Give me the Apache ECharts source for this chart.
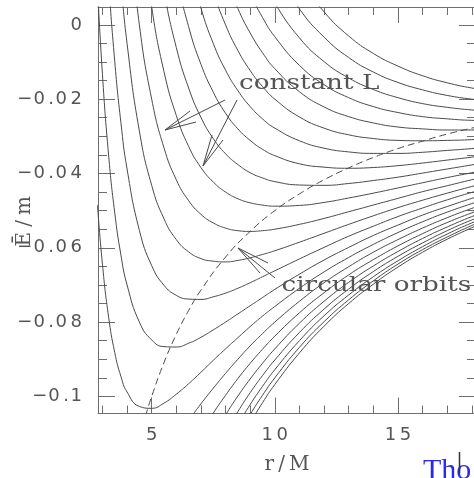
<!DOCTYPE html>
<html>
<head>
<meta charset="utf-8">
<script src="https://cdn.jsdelivr.net/npm/echarts@6.0.0/dist/echarts.min.js"></script>
<style>
  html, body { margin: 0; padding: 0; background: #ffffff; }
  #chart { width: 474px; height: 478px; }
</style>
</head>
<body>
<div id="chart"></div>
<script>
const _ = null;

// Radial sample points (r/M) shared by every effective-potential curve
const radii = [2.8, 3, 3.25, 3.5, 3.75, 4, 4.5, 5, 5.5, 6, 6.5, 7, 7.5, 8, 8.5, 9, 9.5, 10, 11, 12, 13, 14, 15, 16, 17, 18, 19];

// Angular momentum of each curve
const angularMomenta = [0.8, 1.0, 1.2, 1.4, 1.6, 1.8, 2.0, 2.2, 2.4, 2.6, 2.8, 3.0, 3.2, 3.4, 3.6, 3.8, 4.0, 4.2, 4.4, 4.6, 4.8, 5.0];

// Energy per unit mass along each constant-L curve (one row per L, null = not drawn)
const energies = [
  [_,_,_,_,_,_,_,_,_,_,_,_,_,_, -0.1132,-0.1072,-0.1017,-0.0968,-0.0883,-0.0811,-0.0750,-0.0698,-0.0652,-0.0612,-0.0577,-0.0546,-0.0517],
  [_,_,_,_,_,_,_,_,_,_,_,_,_,_, -0.1107,-0.1049,-0.0997,-0.0950,-0.0868,-0.0799,-0.0740,-0.0689,-0.0644,-0.0605,-0.0571,-0.0540,-0.0512],
  [_,_,_,_,_,_,_,_,_,_,_,_,_, -0.1138,-0.1077,-0.1022,-0.0973,-0.0928,-0.0850,-0.0783,-0.0727,-0.0678,-0.0635,-0.0597,-0.0563,-0.0533,-0.0506],
  [_,_,_,_,_,_,_,_,_,_,_,_,_, -0.1097,-0.1041,-0.0990,-0.0944,-0.0902,-0.0828,-0.0765,-0.0711,-0.0664,-0.0623,-0.0587,-0.0554,-0.0525,-0.0499],
  [_,_,_,_,_,_,_,_,_,_,_,_, -0.1106,-0.1050,-0.0999,-0.0953,-0.0911,-0.0872,-0.0803,-0.0744,-0.0693,-0.0649,-0.0610,-0.0575,-0.0544,-0.0516,-0.0491],
  [_,_,_,_,_,_,_,_,_,_,_, -0.1098,-0.1045,-0.0997,-0.0952,-0.0911,-0.0873,-0.0838,-0.0775,-0.0721,-0.0673,-0.0632,-0.0595,-0.0562,-0.0532,-0.0506,-0.0481],
  [_,_,_,_,_,_,_,_,_, -0.1111,-0.1065,-0.1020,-0.0978,-0.0938,-0.0900,-0.0864,-0.0831,-0.0800,-0.0744,-0.0694,-0.0651,-0.0612,-0.0578,-0.0547,-0.0519,-0.0494,-0.0471],
  [-0.0485,-0.0644,-0.0786,-0.0882,-0.0946,-0.0988,-0.1027,-0.1032,-0.1018,-0.0994,-0.0966,-0.0935,-0.0903,-0.0872,-0.0842,-0.0812,-0.0784,-0.0758,-0.0709,-0.0665,-0.0626,-0.0591,-0.0559,-0.0530,-0.0504,-0.0481,-0.0459],
  [0.0102,-0.0133,-0.0350,-0.0506,-0.0619,-0.0700,-0.0800,-0.0848,-0.0866,-0.0867,-0.0857,-0.0841,-0.0821,-0.0800,-0.0778,-0.0756,-0.0734,-0.0712,-0.0671,-0.0633,-0.0599,-0.0567,-0.0539,-0.0512,-0.0489,-0.0467,-0.0447],
  [_, 0.0422,0.0123,-0.0098,-0.0263,-0.0388,-0.0553,-0.0648,-0.0701,-0.0728,-0.0738,-0.0739,-0.0732,-0.0722,-0.0709,-0.0694,-0.0678,-0.0662,-0.0630,-0.0599,-0.0569,-0.0542,-0.0516,-0.0493,-0.0471,-0.0451,-0.0433],
  [_,_,_, 0.0343,0.0121,-0.0050,-0.0286,-0.0432,-0.0522,-0.0578,-0.0611,-0.0629,-0.0636,-0.0638,-0.0634,-0.0627,-0.0618,-0.0608,-0.0585,-0.0561,-0.0537,-0.0514,-0.0492,-0.0472,-0.0453,-0.0435,-0.0418],
  [_,_,_,_,_, 0.0313,0.0000,-0.0200,-0.0331,-0.0417,-0.0473,-0.0510,-0.0533,-0.0547,-0.0554,-0.0556,-0.0554,-0.0550,-0.0537,-0.0521,-0.0503,-0.0485,-0.0467,-0.0449,-0.0433,-0.0417,-0.0402],
  [_,_,_,_,_,_, 0.0306,0.0048,-0.0126,-0.0244,-0.0327,-0.0384,-0.0423,-0.0450,-0.0468,-0.0479,-0.0485,-0.0488,-0.0486,-0.0478,-0.0466,-0.0453,-0.0439,-0.0425,-0.0411,-0.0398,-0.0384],
  [_,_,_,_,_,_,_, 0.0312,0.0093,-0.0061,-0.0170,-0.0249,-0.0306,-0.0347,-0.0376,-0.0398,-0.0412,-0.0422,-0.0431,-0.0432,-0.0427,-0.0419,-0.0410,-0.0399,-0.0388,-0.0377,-0.0366],
  [_,_,_,_,_,_,_,_, 0.0324,0.0133,-0.0005,-0.0106,-0.0181,-0.0238,-0.0280,-0.0311,-0.0335,-0.0352,-0.0374,-0.0383,-0.0386,-0.0384,-0.0379,-0.0372,-0.0364,-0.0356,-0.0347],
  [_,_,_,_,_,_,_,_,_, 0.0339,0.0170,0.0045,-0.0050,-0.0122,-0.0177,-0.0220,-0.0253,-0.0278,-0.0312,-0.0332,-0.0342,-0.0346,-0.0346,-0.0343,-0.0338,-0.0333,-0.0326],
  [_,_,_,_,_,_,_,_,_,_,_, 0.0204,0.0089,0.0000,-0.0069,-0.0123,-0.0166,-0.0200,-0.0248,-0.0278,-0.0296,-0.0306,-0.0311,-0.0312,-0.0311,-0.0309,-0.0305],
  [_,_,_,_,_,_,_,_,_,_,_,_, 0.0235,0.0128,0.0044,-0.0022,-0.0075,-0.0118,-0.0180,-0.0221,-0.0247,-0.0264,-0.0275,-0.0280,-0.0283,-0.0283,-0.0282],
  [_,_,_,_,_,_,_,_,_,_,_,_,_,_, 0.0163,0.0084,0.0020,-0.0032,-0.0109,-0.0161,-0.0196,-0.0220,-0.0236,-0.0247,-0.0253,-0.0257,-0.0258],
  [_,_,_,_,_,_,_,_,_,_,_,_,_,_,_, 0.0195,0.0120,0.0058,-0.0035,-0.0099,-0.0143,-0.0174,-0.0196,-0.0212,-0.0222,-0.0229,-0.0233],
  [_,_,_,_,_,_,_,_,_,_,_,_,_,_,_,_, 0.0224,0.0152,0.0043,-0.0033,-0.0088,-0.0127,-0.0155,-0.0175,-0.0190,-0.0200,-0.0207],
  [_,_,_,_,_,_,_,_,_,_,_,_,_,_,_,_,_, 0.0250,0.0124,0.0035,-0.0030,-0.0077,-0.0111,-0.0137,-0.0156,-0.0170,-0.0180]
];

// Locus of circular orbits
const circularRadii = [4.75, 5, 5.5, 6, 6.5, 7, 8, 9, 10, 11, 12, 13, 14, 15, 16, 17, 18, 19];
const circularEnergies = [-0.1053, -0.1, -0.0909, -0.0833, -0.0769, -0.0714, -0.0625, -0.0556, -0.05, -0.0455, -0.0417, -0.0385, -0.0357, -0.0333, -0.0313, -0.0294, -0.0278, -0.0263];

// Ticks
const xMajorTicks = [5, 10, 15];
const xTickLabels = ['5', '10', '15'];
const xMinorTicks = [3, 4, 6, 7, 8, 9, 11, 12, 13, 14, 16, 17, 18];
const yMajorTicks = [0, -0.02, -0.04, -0.06, -0.08, -0.1];
const yTickLabels = ['0', '\u22120.02', '\u22120.04', '\u22120.06', '\u22120.08', '\u22120.1'];
const yMinorTicks = [-0.005, -0.01, -0.015, -0.025, -0.03, -0.035, -0.045, -0.05, -0.055, -0.065, -0.07, -0.075, -0.085, -0.09, -0.095];

const X_MIN = 2.82, X_MAX = 18.17;
const Y_MIN = -0.1046, Y_MAX = 0.0048;

const frameColor = '#6e6e6e';
const inkColor = '#4a4a4a';
const labelColor = '#555555';
const serif = '"DejaVu Serif", "Liberation Serif", serif';
const sans = '"DejaVu Sans", "Liberation Sans", sans-serif';

// Wide, loosely spaced tick-label lettering: each glyph is its own rich token
const spacedRich = {
  m: { color: labelColor, fontFamily: sans, fontSize: 18, padding: [0, 1, 0, 0] },
  p: { color: labelColor, fontFamily: sans, fontSize: 18, padding: [0, 1.5, 0, 0] },
  c: { color: labelColor, fontFamily: sans, fontSize: 18, padding: [0, 3.5, 0, 0] },
  e: { color: labelColor, fontFamily: sans, fontSize: 18 }
};
function spaced(text) {
  const chars = Array.from(text);
  return chars.map((ch, i) => {
    let tag = 'c';
    if (i === chars.length - 1) tag = 'e';
    else if (ch === '\u2212') tag = 'm';
    else if (ch === '.') tag = 'p';
    return '{' + tag + '|' + ch + '}';
  }).join('');
}

function frameAxis(kind, position, ticks, tickLength, withLine, extra) {
  const base = {
    type: 'value',
    position: position,
    min: kind === 'x' ? X_MIN : Y_MIN,
    max: kind === 'x' ? X_MAX : Y_MAX,
    offset: 0,
    scale: true,
    axisLine: { show: withLine, onZero: false, lineStyle: { color: frameColor, width: 1 } },
    axisTick: { show: true, inside: true, length: tickLength, customValues: ticks,
                lineStyle: { color: frameColor, width: 1 } },
    axisLabel: { show: false },
    splitLine: { show: false },
    nameMoveOverlap: false
  };
  return Object.assign(base, extra || {});
}

const xAxes = [
  frameAxis('x', 'bottom', xMajorTicks, 16, true, {
    axisLabel: {
      show: true, customValues: xMajorTicks, margin: 13, color: labelColor,
      fontFamily: sans, fontSize: 18, rich: spacedRich,
      formatter: v => spaced(xTickLabels[Math.round(v / 5) - 1])
    },
    name: '{a|r}{s|/}{a|M}',
    nameLocation: 'middle',
    nameGap: 41,
    nameTextStyle: {
      color: labelColor, fontFamily: serif, fontSize: 20,
      rich: {
        a: { color: labelColor, fontFamily: serif, fontSize: 20 },
        s: { color: labelColor, fontFamily: serif, fontSize: 20, padding: [0, 4, 0, 4] }
      }
    }
  }),
  frameAxis('x', 'bottom', xMinorTicks, 8, false),
  frameAxis('x', 'top', xMajorTicks, 16, true),
  frameAxis('x', 'top', xMinorTicks, 8, false)
];

const yAxes = [
  frameAxis('y', 'left', yMajorTicks, 17, true, {
    axisLabel: {
      show: true, customValues: yMajorTicks, margin: 16, color: labelColor,
      fontFamily: sans, fontSize: 18, rich: spacedRich,
      formatter: v => spaced(yTickLabels[Math.round(-v / 0.02)])
    },
    name: '{a|\u0112}{s|/}{a|m}',
    nameLocation: 'middle',
    nameGap: 63,
    nameTextStyle: {
      color: labelColor, fontFamily: serif, fontSize: 20, padding: [0, 22, 0, 0],
      rich: {
        a: { color: labelColor, fontFamily: serif, fontSize: 20 },
        s: { color: labelColor, fontFamily: serif, fontSize: 20, padding: [0, 5, 0, 5] }
      }
    }
  }),
  frameAxis('y', 'left', yMinorTicks, 9, false),
  frameAxis('y', 'right', yMajorTicks, 17, true),
  frameAxis('y', 'right', yMinorTicks, 9, false)
];

const curveSeries = energies.map((row, i) => ({
  type: 'line',
  name: 'L = ' + angularMomenta[i].toFixed(1),
  xAxisIndex: 0,
  yAxisIndex: 0,
  data: radii.map((r, j) => (row[j] === null ? null : [r, row[j]])).filter(p => p !== null),
  showSymbol: false,
  smooth: 0.5,
  clip: true,
  silent: true,
  lineStyle: { color: inkColor, width: 1 },
  z: 2
}));

const circularSeries = {
  type: 'line',
  name: 'circular orbits',
  xAxisIndex: 0,
  yAxisIndex: 0,
  data: circularRadii.map((r, j) => [r, circularEnergies[j]]),
  showSymbol: false,
  smooth: 0.5,
  clip: true,
  silent: true,
  lineStyle: { color: inkColor, width: 1, type: [7, 4] },
  z: 3
};

function arrow(tip, tail, barbA, barbB) {
  return [
    { type: 'polyline', shape: { points: [tail, tip] }, style: { stroke: inkColor, lineWidth: 1, fill: null }, z: 10 },
    { type: 'polyline', shape: { points: [barbA, tip, barbB] }, style: { stroke: inkColor, lineWidth: 1, fill: null }, z: 10 }
  ];
}

const chart = echarts.init(document.getElementById('chart'), null, { renderer: 'canvas', devicePixelRatio: 1 });

chart.setOption({
  animation: false,
  backgroundColor: '#ffffff',
  grid: { left: 98, top: 7, width: 378, height: 406.5, containLabel: false, outerBoundsMode: 'none' },
  xAxis: xAxes,
  yAxis: yAxes,
  series: curveSeries.concat([circularSeries]),
  graphic: [
    { type: 'text', x: 239, y: 83.5, scaleX: 1.25, z: 10,
      style: { text: 'constant L', font: '21px ' + serif, fill: labelColor, align: 'left', verticalAlign: 'middle' } },
    { type: 'text', x: 281.5, y: 286, scaleX: 1.25, z: 10,
      style: { text: 'circular orbits', font: '21px ' + serif, fill: labelColor, align: 'left', verticalAlign: 'middle' } },
    ...arrow([165, 130], [225, 100], [196, 122], [190, 111]),
    ...arrow([203, 166], [237, 100], [212, 135], [223, 140]),
    ...arrow([238, 248], [275, 278], [268, 263], [260, 273]),
    { type: 'text', x: 423, y: 471.5, z: 10,
      style: { text: 'Tho', font: '30px "Liberation Serif", serif', fill: '#2a2ae8', align: 'left', verticalAlign: 'middle' } },
    { type: 'line', shape: { x1: 459.5, y1: 452, x2: 459.5, y2: 473 }, style: { stroke: '#333333', lineWidth: 1.5 }, z: 11 }
  ]
});
</script>
</body>
</html>
